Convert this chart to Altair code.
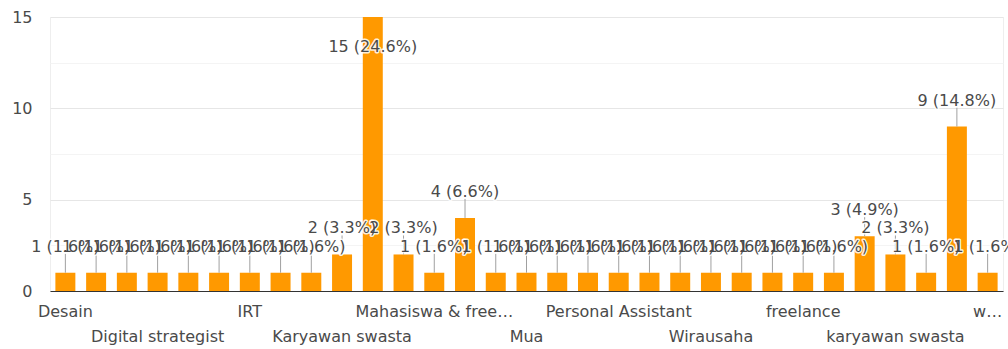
import altair as alt
import pandas as pd

FONT = "DejaVu Sans"
FS = 16

categories = [
    "Desain", "Desainer", "Designer", "Digital strategist", "Dosen", "Guru",
    "IRT", "Ibu rumah tangga", "Karyawan", "Karyawan swasta", "Mahasiswa",
    "Mahasiswa aktif", "Mahasiswa & freelance", "Mahasiswi", "Marketing", "Mua",
    "Pegawai", "Pelajar", "Personal Assistant", "Programmer", "Swasta",
    "Wirausaha", "Wiraswasta", "admin", "freelance", "guru",
    "ibu rumah tangga", "karyawan swasta", "karyawati", "mahasiswa", "wiraswasta",
]
counts = [
    1, 1, 1, 1, 1, 1,
    1, 1, 1, 2, 15,
    2, 1, 4, 1, 1,
    1, 1, 1, 1, 1,
    1, 1, 1, 1, 1,
    3, 2, 1, 9, 1,
]
# axis text as displayed (only every third category is labelled)
axis_text = [
    "Desain", "", "", "Digital strategist", "", "",
    "IRT", "", "", "Karyawan swasta", "", "",
    "Mahasiswa & free…", "", "", "Mua", "", "",
    "Personal Assistant", "", "", "Wirausaha", "", "",
    "freelance", "", "", "karyawan swasta", "", "",
    "w…",
]

total = sum(counts)
top = max(counts)
rows = []
for i, (c, n, t) in enumerate(zip(categories, counts, axis_text)):
    rows.append({
        "category": c,
        "count": n,
        "label": f"{n} ({100 * n / total:.1f}%)",
        "xlabel": t,
        "row": (0 if t == "" else (1 if (i // 3) % 2 == 0 else 2)),
    })
df = pd.DataFrame(rows)

W, H = 953, 274
TXT = "#4a4a4a"

x = alt.X("category:N", sort=categories,
          scale=alt.Scale(paddingInner=0.35, paddingOuter=0.175),
          axis=alt.Axis(labels=False, ticks=False, title=None,
                        domainColor="#333333", domainWidth=1, grid=False))
y = alt.Y("count:Q", title=None,
          scale=alt.Scale(domain=[0, 15], nice=False, zero=True),
          axis=alt.Axis(values=[0, 2.5, 5, 7.5, 10, 12.5, 15],
                        labelExpr="datum.value % 5 === 0 ? datum.label : ''",
                        gridColor=alt.condition("datum.value % 5 === 0",
                                                alt.value("#e6e6e6"),
                                                alt.value("#f4f4f4")),
                        ticks=False, domain=False, labelPadding=18,
                        labelFont=FONT, labelFontSize=FS, labelColor=TXT))

base = alt.Chart(df)

bars = base.mark_bar(color="#ff9900").encode(x=x, y=y)

leaders = base.transform_filter(f"datum.count < {top}").mark_rule(
    color="#a0a0a0", strokeWidth=1, y2Offset=-19
).encode(x=x, y="count:Q", y2="count:Q")

def value_labels(halo):
    props = dict(font=FONT, fontSize=FS, baseline="middle", align="center")
    if halo:
        props.update(color="white", stroke="white", strokeWidth=3,
                     strokeOpacity=0.85, strokeJoin="round")
    else:
        props.update(color=TXT)
    outside = base.transform_filter(f"datum.count < {top}").mark_text(
        dy=-26, **props).encode(x=x, y="count:Q", text="label:N")
    inside = base.transform_filter(f"datum.count == {top}").mark_text(
        dy=30, **props).encode(x=x, y="count:Q", text="label:N")
    return [outside, inside]

xl1 = base.transform_filter("datum.row == 1").mark_text(
    font=FONT, fontSize=FS, color=TXT, baseline="middle"
).encode(x=x, y=alt.value(H + 21), text="xlabel:N")
xl2 = base.transform_filter("datum.row == 2").mark_text(
    font=FONT, fontSize=FS, color=TXT, baseline="middle"
).encode(x=x, y=alt.value(H + 46), text="xlabel:N")

chart = alt.layer(
    bars, leaders, *value_labels(True), *value_labels(False), xl1, xl2
).properties(
    width=W, height=H,
    autosize=alt.AutoSizeParams(type="none"),
    padding={"left": 50, "top": 17, "right": 5, "bottom": 58},
    background="white",
).configure_view(stroke="#eeeeee")

chart.save("out.html", embed_options={"renderer": "svg", "actions": False})
